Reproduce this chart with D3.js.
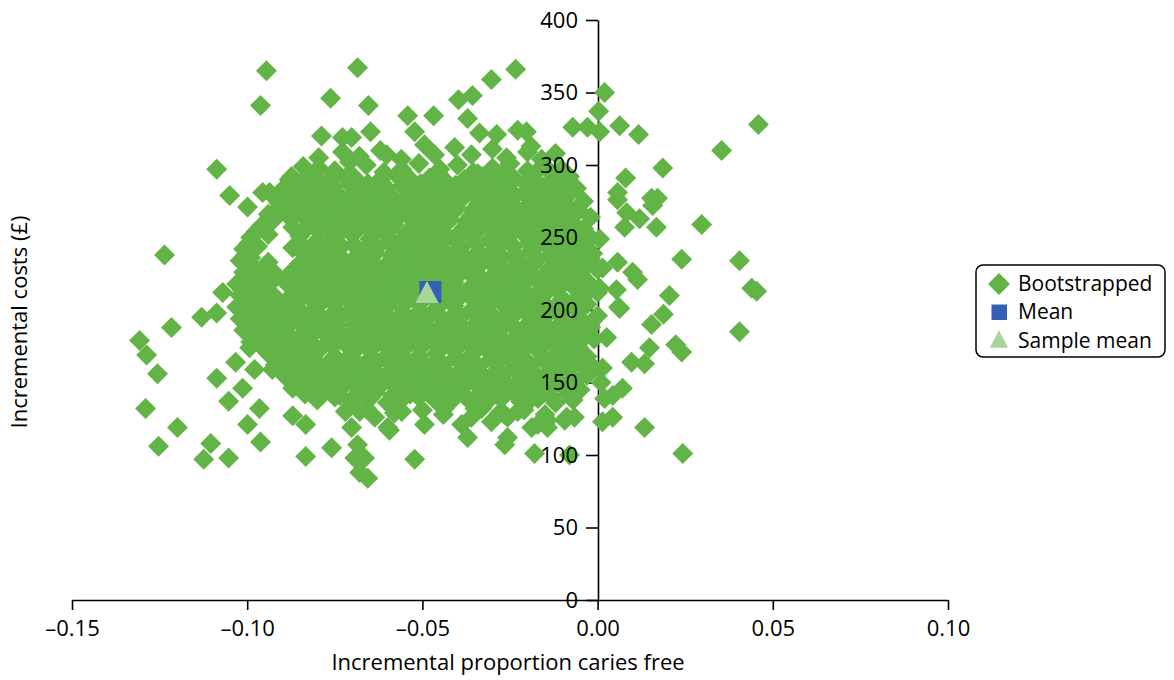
<!DOCTYPE html>
<html>
<head>
<meta charset="utf-8">
<script src="https://cdn.jsdelivr.net/npm/d3@7"></script>
<style>
body{margin:0;background:#fff}
text{font-family:"Open Sans",sans-serif;fill:#000}
</style>
</head>
<body>
<svg id="svg" width="1174" height="680"></svg>
<script>
// incremental proportion caries free, incremental cost (GBP)
var outliers = [
[-0.0945,365],[-0.0685,367],[-0.0234,366],[-0.0303,359],[-0.0962,341],[-0.0762,346],[-0.0654,341],[-0.0542,334],[-0.0468,334],[-0.0397,345],[-0.0357,348],[-0.0371,332],
[0.0020,350],[0.0003,337],[-0.0071,326],[-0.0029,326],[0.0006,323],[0.0063,327],[0.0117,321],[0.0459,328],[0.0354,310],[0.0186,298],[0.0080,291],[0.0057,281],[0.0154,277],[0.0171,277],[-0.0103,297],
[-0.0788,320],[-0.0728,319],[-0.0702,319],[-0.0648,323],[-0.0796,305],[-0.0796,298],[-0.0796,288],[-0.1087,297],[-0.0873,292],[-0.1050,279],[-0.0956,281],[-0.0936,281],[-0.0865,281],[-0.0822,283],[-0.0728,309],[-0.0708,302],[-0.0602,307],[-0.0522,323],[-0.0559,297],[-0.0494,314],[-0.0465,307],[-0.0408,312],[-0.0337,322],[-0.0288,321],[-0.0228,324],[-0.0203,323],[-0.0342,294],[-0.0999,271],[-0.0928,266],[-0.1236,238],[-0.1070,212],[-0.1130,195],[-0.1087,198],[-0.1216,188],[-0.1307,179],
[0.0297,259],[0.0240,235],[0.0405,234],[0.0454,213],[0.0440,215],[0.0205,210],[0.0060,202],[0.0188,197],[0.0154,190],[0.0405,185],[0.0077,257],[0.0120,263],[0.0168,257],[0.0083,267],[0.0157,272],[0.0057,276],[0.0006,249],[-0.0014,239],[0.0014,229],[0.0057,233],[0.0100,226],[0.0114,221],[0.0006,215],[0.0054,214],[0.0026,181],[0.0063,201],[0.0097,164],[0.0134,163],[0.0071,146],[0.0043,141],[0.0020,139],[0.0014,123],[0.0043,126],[0.0134,119],[0.0243,101],[0.0240,171],[0.0148,174],[0.0223,176],[0.0014,160],[0.0010,150],
[-0.1287,169],[-0.1256,156],[-0.1290,132],[-0.1199,119],[-0.1253,106],[-0.1087,153],[-0.1013,146],[-0.1053,137],[-0.1033,164],[-0.0965,132],[-0.0999,121],[-0.0962,109],[-0.1104,108],[-0.1124,97],[-0.1053,98],[-0.0870,127],[-0.0833,121],[-0.0833,99],[-0.0759,105],[-0.0993,174],[-0.0936,171],[-0.0979,159],[-0.0928,159],
[-0.0594,117],[-0.0522,97],[-0.0494,121],[-0.0388,121],[-0.0371,112],[-0.0265,107],[-0.0180,101],[-0.0679,88],[-0.0656,84],[-0.0693,98],[-0.0257,126],[-0.0342,132],[-0.0188,119],[-0.0702,119],[-0.0080,100],[-0.0143,124],[-0.0094,124],
[-0.0679,130],[-0.0636,126],[-0.0599,119],[-0.0559,130],[-0.0437,132],[-0.0360,126],[-0.0331,132],[-0.0303,123],[-0.0265,128],[-0.0257,112],[-0.0228,130],[-0.0188,139],[-0.0171,121],[-0.0143,119],[-0.0685,107],[-0.0665,98],[-0.0088,126],[-0.0066,126]
];

var cloud = [
[-0.068,306],[-0.062,310],[-0.056,304],[-0.036,307],[-0.030,311],[-0.026,305],[-0.020,309],[-0.016,304],[-0.012,308],[-0.019,313],
[-0.084,299],[-0.075,296],[-0.066,300],[-0.061,295],[-0.051,301],[-0.045,297],[-0.040,300],[-0.030,298],[-0.025,301],[-0.020,296],[-0.015,299],
[-0.088,290],[-0.083,292],[-0.077,289],[-0.072,291],[-0.068,288],[-0.062,290],[-0.057,292],[-0.053,289],[-0.048,291],[-0.043,288],[-0.038,290],[-0.033,292],[-0.028,289],[-0.024,291],[-0.018,288],[-0.013,290],[-0.008,292],
[-0.090,283],[-0.085,281],[-0.080,284],[-0.075,282],[-0.070,280],[-0.065,283],[-0.060,281],[-0.055,284],[-0.050,282],[-0.046,280],[-0.041,283],[-0.036,281],[-0.031,284],[-0.026,282],[-0.021,280],[-0.016,283],[-0.011,281],[-0.006,284],
[-0.091,274],[-0.087,276],[-0.082,273],[-0.077,275],[-0.073,272],[-0.068,274],[-0.063,276],[-0.058,273],[-0.053,275],[-0.048,272],[-0.043,274],[-0.039,276],[-0.034,273],[-0.029,275],[-0.024,272],[-0.019,274],[-0.014,276],[-0.009,273],[-0.004,275],
[-0.094,266],[-0.089,268],[-0.084,265],[-0.080,267],[-0.075,264],[-0.070,266],[-0.065,268],[-0.060,265],[-0.055,267],[-0.050,264],[-0.046,266],[-0.041,268],[-0.036,265],[-0.031,267],[-0.026,264],[-0.021,266],[-0.016,268],[-0.011,265],[-0.006,267],[-0.002,264],
[-0.096,258],[-0.087,257],[-0.082,259],[-0.077,256],[-0.072,258],[-0.068,260],[-0.063,257],[-0.058,259],[-0.053,256],[-0.048,258],[-0.043,260],[-0.038,257],[-0.034,259],[-0.029,256],[-0.024,258],[-0.019,260],[-0.014,257],[-0.009,259],[-0.004,256],
[-0.099,250],[-0.094,252],[-0.085,251],[-0.080,248],[-0.075,250],[-0.070,252],[-0.065,249],[-0.060,251],[-0.056,248],[-0.051,250],[-0.046,252],[-0.041,249],[-0.036,251],[-0.031,248],[-0.026,250],[-0.021,252],[-0.017,249],[-0.012,251],[-0.007,248],[-0.002,250],
[-0.101,242],[-0.097,244],[-0.087,243],[-0.082,240],[-0.078,242],[-0.073,244],[-0.068,241],[-0.063,243],[-0.058,240],[-0.053,242],[-0.048,244],[-0.044,241],[-0.039,243],[-0.034,240],[-0.029,242],[-0.024,244],[-0.019,241],[-0.014,243],[-0.010,240],[-0.005,242],
[-0.102,234],[-0.099,236],[-0.094,233],[-0.085,232],[-0.080,234],[-0.075,236],[-0.070,233],[-0.065,235],[-0.060,232],[-0.056,234],[-0.051,236],[-0.046,233],[-0.041,235],[-0.036,232],[-0.031,234],[-0.027,236],[-0.022,233],[-0.017,235],[-0.012,232],[-0.007,234],[-0.002,236],
[-0.101,226],[-0.096,228],[-0.092,225],[-0.087,227],[-0.082,224],[-0.077,226],[-0.072,228],[-0.068,225],[-0.063,227],[-0.058,224],[-0.053,226],[-0.048,228],[-0.043,225],[-0.039,227],[-0.034,224],[-0.029,226],[-0.024,228],[-0.019,225],[-0.014,227],[-0.010,224],[-0.005,226],[0.000,228],
[-0.103,218],[-0.099,220],[-0.094,217],[-0.089,219],[-0.084,216],[-0.080,218],[-0.075,220],[-0.070,217],[-0.065,219],[-0.060,216],[-0.055,218],[-0.051,220],[-0.046,217],[-0.041,219],[-0.036,216],[-0.031,218],[-0.027,220],[-0.022,217],[-0.017,219],[-0.012,216],[-0.007,218],[-0.003,220],
[-0.102,210],[-0.097,212],[-0.092,209],[-0.087,211],[-0.082,208],[-0.078,210],[-0.073,212],[-0.068,209],[-0.063,211],[-0.058,208],[-0.053,210],[-0.049,212],[-0.044,209],[-0.039,211],[-0.034,208],[-0.029,210],[-0.024,212],[-0.020,209],[-0.015,211],[-0.010,208],[-0.005,210],[0.000,212],
[-0.103,202],[-0.099,204],[-0.094,201],[-0.089,203],[-0.085,200],[-0.080,202],[-0.075,204],[-0.070,201],[-0.065,203],[-0.061,200],[-0.056,202],[-0.051,204],[-0.046,201],[-0.041,203],[-0.036,200],[-0.032,202],[-0.027,204],[-0.022,201],[-0.017,203],[-0.012,200],[-0.007,202],[-0.003,204],
[-0.102,194],[-0.097,196],[-0.092,193],[-0.087,195],[-0.082,192],[-0.077,194],[-0.073,196],[-0.068,193],[-0.063,195],[-0.058,192],[-0.053,194],[-0.048,196],[-0.044,193],[-0.039,195],[-0.034,192],[-0.029,194],[-0.024,196],[-0.019,193],[-0.015,195],[-0.010,192],[-0.005,194],[0.000,196],
[-0.101,186],[-0.098,188],[-0.094,185],[-0.089,187],[-0.084,184],[-0.080,186],[-0.075,188],[-0.070,185],[-0.065,187],[-0.060,184],[-0.056,186],[-0.051,188],[-0.046,185],[-0.041,187],[-0.036,184],[-0.031,186],[-0.027,188],[-0.022,185],[-0.017,187],[-0.012,184],[-0.007,186],[-0.002,188],
[-0.099,178],[-0.096,180],[-0.092,177],[-0.087,179],[-0.082,176],[-0.077,178],[-0.072,180],[-0.068,177],[-0.063,179],[-0.058,176],[-0.053,178],[-0.048,180],[-0.043,177],[-0.039,179],[-0.034,176],[-0.029,178],[-0.024,180],[-0.019,177],[-0.014,179],[-0.010,176],[-0.005,178],[-0.001,180],
[-0.094,170],[-0.089,172],[-0.084,169],[-0.080,171],[-0.075,168],[-0.070,170],[-0.065,172],[-0.060,169],[-0.056,171],[-0.051,168],[-0.046,170],[-0.041,172],[-0.036,169],[-0.031,171],[-0.027,168],[-0.022,170],[-0.017,172],[-0.012,169],[-0.007,171],[-0.003,168],
[-0.092,162],[-0.087,164],[-0.082,161],[-0.077,163],[-0.073,160],[-0.068,162],[-0.063,164],[-0.058,161],[-0.053,163],[-0.048,160],[-0.044,162],[-0.039,164],[-0.034,161],[-0.029,163],[-0.024,160],[-0.019,162],[-0.015,164],[-0.010,161],[-0.005,163],[-0.001,160],
[-0.089,154],[-0.084,156],[-0.080,153],[-0.075,155],[-0.070,152],[-0.065,154],[-0.060,156],[-0.056,153],[-0.051,155],[-0.046,152],[-0.041,154],[-0.036,156],[-0.031,153],[-0.027,155],[-0.022,152],[-0.017,154],[-0.012,156],[-0.007,153],[-0.003,155],
[-0.087,146],[-0.082,148],[-0.077,145],[-0.073,147],[-0.068,144],[-0.063,146],[-0.058,148],[-0.053,145],[-0.048,147],[-0.044,144],[-0.039,146],[-0.034,148],[-0.029,145],[-0.024,147],[-0.019,144],[-0.015,146],[-0.010,148],[-0.005,145],
[-0.080,138],[-0.075,140],[-0.070,137],[-0.065,139],[-0.060,136],[-0.056,138],[-0.051,140],[-0.046,137],[-0.041,139],[-0.036,136],[-0.031,138],[-0.027,140],[-0.022,137],[-0.017,139],[-0.012,136],[-0.007,138],
[-0.072,130],[-0.066,132],[-0.058,129],[-0.050,131],[-0.044,128],[-0.035,132],[-0.028,129],[-0.021,131],[-0.015,128]
];

// second layer filling the solid core of the cloud
var core = [
[-0.0805,295],[-0.0705,294],[-0.0555,295],[-0.0455,294],[-0.0355,295],[-0.0275,294],[-0.0175,295],[-0.0105,294],
[-0.0855,286],[-0.0805,287],[-0.0755,285],[-0.0705,286],[-0.0655,287],[-0.0605,285],[-0.0555,286],[-0.0505,287],[-0.0455,285],[-0.0405,286],[-0.0355,287],[-0.0305,285],[-0.0255,286],[-0.0205,287],[-0.0155,285],[-0.0105,286],
[-0.0885,278],[-0.0835,279],[-0.0785,277],[-0.0735,278],[-0.0685,279],[-0.0635,277],[-0.0585,278],[-0.0535,279],[-0.0485,277],[-0.0435,278],[-0.0385,279],[-0.0335,277],[-0.0285,278],[-0.0235,279],[-0.0185,277],[-0.0135,278],[-0.0085,279],
[-0.0905,270],[-0.0855,271],[-0.0805,269],[-0.0755,270],[-0.0705,271],[-0.0655,269],[-0.0605,270],[-0.0555,271],[-0.0505,269],[-0.0455,270],[-0.0405,271],[-0.0355,269],[-0.0305,270],[-0.0255,271],[-0.0205,269],[-0.0155,270],[-0.0105,271],[-0.0055,269],
[-0.0925,262],[-0.0875,263],[-0.0825,261],[-0.0775,262],[-0.0725,263],[-0.0675,261],[-0.0625,262],[-0.0575,263],[-0.0525,261],[-0.0475,262],[-0.0425,263],[-0.0375,261],[-0.0325,262],[-0.0275,263],[-0.0225,261],[-0.0175,262],[-0.0125,263],[-0.0075,261],
[-0.0975,254],[-0.0845,253],[-0.0795,254],[-0.0745,255],[-0.0695,253],[-0.0645,254],[-0.0595,255],[-0.0545,253],[-0.0495,254],[-0.0445,255],[-0.0395,253],[-0.0345,254],[-0.0295,255],[-0.0245,253],[-0.0195,254],[-0.0145,255],[-0.0095,253],[-0.0045,254],
[-0.0995,246],[-0.0845,245],[-0.0795,246],[-0.0745,247],[-0.0695,245],[-0.0645,246],[-0.0595,247],[-0.0545,245],[-0.0495,246],[-0.0445,247],[-0.0395,245],[-0.0345,246],[-0.0295,247],[-0.0245,245],[-0.0195,246],[-0.0145,247],[-0.0095,245],[-0.0045,246],
[-0.1005,238],[-0.0835,238],[-0.0785,239],[-0.0735,237],[-0.0685,238],[-0.0635,239],[-0.0585,237],[-0.0535,238],[-0.0485,239],[-0.0435,237],[-0.0385,238],[-0.0335,239],[-0.0285,237],[-0.0235,238],[-0.0185,239],[-0.0135,237],[-0.0085,238],[-0.0035,239],
[-0.0985,230],[-0.0835,230],[-0.0785,231],[-0.0735,229],[-0.0685,230],[-0.0635,231],[-0.0585,229],[-0.0535,230],[-0.0485,231],[-0.0435,229],[-0.0385,230],[-0.0335,231],[-0.0285,229],[-0.0235,230],[-0.0185,231],[-0.0135,229],[-0.0085,230],[-0.0035,231],
[-0.1005,222],[-0.0955,223],[-0.0855,222],[-0.0805,223],[-0.0755,221],[-0.0705,222],[-0.0655,223],[-0.0605,221],[-0.0555,222],[-0.0505,223],[-0.0455,221],[-0.0405,222],[-0.0355,223],[-0.0305,221],[-0.0255,222],[-0.0205,223],[-0.0155,221],[-0.0105,222],[-0.0055,223],
[-0.1015,214],[-0.0965,215],[-0.0865,214],[-0.0815,215],[-0.0765,213],[-0.0715,214],[-0.0665,215],[-0.0615,213],[-0.0565,214],[-0.0515,215],[-0.0465,213],[-0.0415,214],[-0.0365,215],[-0.0315,213],[-0.0265,214],[-0.0215,215],[-0.0165,213],[-0.0115,214],[-0.0065,215],[-0.0025,213],
[-0.1005,206],[-0.0955,207],[-0.0855,206],[-0.0805,207],[-0.0755,205],[-0.0705,206],[-0.0655,207],[-0.0605,205],[-0.0555,206],[-0.0505,207],[-0.0455,205],[-0.0405,206],[-0.0355,207],[-0.0305,205],[-0.0255,206],[-0.0205,207],[-0.0155,205],[-0.0105,206],[-0.0055,207],
[-0.1005,198],[-0.0955,199],[-0.0905,197],[-0.0855,198],[-0.0805,199],[-0.0755,197],[-0.0705,198],[-0.0655,199],[-0.0605,197],[-0.0555,198],[-0.0505,199],[-0.0455,197],[-0.0405,198],[-0.0355,199],[-0.0305,197],[-0.0255,198],[-0.0205,199],[-0.0155,197],[-0.0105,198],[-0.0055,199],
[-0.0995,190],[-0.0945,191],[-0.0895,189],[-0.0845,190],[-0.0795,191],[-0.0745,189],[-0.0695,190],[-0.0645,191],[-0.0595,189],[-0.0545,190],[-0.0495,191],[-0.0445,189],[-0.0395,190],[-0.0345,191],[-0.0295,189],[-0.0245,190],[-0.0195,191],[-0.0145,189],[-0.0095,190],[-0.0045,191],
[-0.0975,182],[-0.0925,183],[-0.0875,181],[-0.0825,182],[-0.0775,183],[-0.0725,181],[-0.0675,182],[-0.0625,183],[-0.0575,181],[-0.0525,182],[-0.0475,183],[-0.0425,181],[-0.0375,182],[-0.0325,183],[-0.0275,181],[-0.0225,182],[-0.0175,183],[-0.0125,181],[-0.0075,182],[-0.0035,183],
[-0.0955,174],[-0.0905,175],[-0.0855,173],[-0.0805,174],[-0.0755,175],[-0.0705,173],[-0.0655,174],[-0.0605,175],[-0.0555,173],[-0.0505,174],[-0.0455,175],[-0.0405,173],[-0.0355,174],[-0.0305,175],[-0.0255,173],[-0.0205,174],[-0.0155,175],[-0.0105,173],[-0.0055,174],
[-0.0905,166],[-0.0855,167],[-0.0805,165],[-0.0755,166],[-0.0705,167],[-0.0655,165],[-0.0605,166],[-0.0555,167],[-0.0505,165],[-0.0455,166],[-0.0405,167],[-0.0355,165],[-0.0305,166],[-0.0255,167],[-0.0205,165],[-0.0155,166],[-0.0105,167],[-0.0055,165],
[-0.0885,158],[-0.0835,159],[-0.0785,157],[-0.0735,158],[-0.0685,159],[-0.0635,157],[-0.0585,158],[-0.0535,159],[-0.0485,157],[-0.0435,158],[-0.0385,159],[-0.0335,157],[-0.0285,158],[-0.0235,159],[-0.0185,157],[-0.0135,158],[-0.0085,159],
[-0.0865,150],[-0.0815,151],[-0.0765,149],[-0.0715,150],[-0.0665,151],[-0.0615,149],[-0.0565,150],[-0.0515,151],[-0.0465,149],[-0.0415,150],[-0.0365,151],[-0.0315,149],[-0.0265,150],[-0.0215,151],[-0.0165,149],[-0.0115,150],[-0.0065,151],
[-0.0835,142],[-0.0785,143],[-0.0735,141],[-0.0685,142],[-0.0635,143],[-0.0585,141],[-0.0535,142],[-0.0485,143],[-0.0435,141],[-0.0385,142],[-0.0335,143],[-0.0285,141],[-0.0235,142],[-0.0185,143],[-0.0135,141],[-0.0085,142]
];

var bootstrapped = outliers.concat(cloud, core);
var meanPoint = [-0.0477, 212.4];
var sampleMean = [-0.0487, 212.4];

var xTicks = [-0.15, -0.10, -0.05, 0, 0.05, 0.10];
var yTicks = [0, 50, 100, 150, 200, 250, 300, 350, 400];
var legendLabels = ["Bootstrapped", "Mean", "Sample mean"];

var green = "#63b446", blue = "#3461b3", pale = "#a9d59b";

var svg = d3.select("#svg");
var x = d3.scaleLinear().domain([-0.15, 0.10]).range([72, 948]);
var y = d3.scaleLinear().domain([0, 400]).range([600, 20]);

var fmtX = function(d){ return (d < 0 ? "\u2013" : "") + d3.format(".2f")(Math.abs(d)); };

// axis lines and ticks (labels drawn later, over the points)
svg.append("g").attr("transform", "translate(0,600)")
  .call(d3.axisBottom(x).tickValues(xTicks).tickSize(10).tickSizeOuter(0).tickFormat(""));
svg.append("g").attr("transform", "translate(598,0)")
  .call(d3.axisLeft(y).tickValues(yTicks).tickSize(12).tickSizeOuter(0).tickFormat(""));
svg.selectAll(".domain, .tick line").attr("stroke", "#000").attr("stroke-width", 1.6);

var diamond = {draw: function(ctx, size){
  var r = Math.sqrt(size / 2);
  ctx.moveTo(0, -r); ctx.lineTo(r, 0); ctx.lineTo(0, r); ctx.lineTo(-r, 0); ctx.closePath();
}};
var tri = {draw: function(ctx, size){
  var h = Math.sqrt(size);
  ctx.moveTo(0, -h / 2); ctx.lineTo(h * 0.53, h / 2); ctx.lineTo(-h * 0.53, h / 2); ctx.closePath();
}};

svg.append("g").selectAll("path").data(bootstrapped).enter().append("path")
  .attr("d", d3.symbol().type(diamond).size(220))
  .attr("transform", function(d){ return "translate(" + x(d[0]) + "," + y(d[1]) + ")"; })
  .attr("fill", green);

svg.append("rect")
  .attr("x", x(meanPoint[0]) - 11).attr("y", y(meanPoint[1]) - 11)
  .attr("width", 22).attr("height", 22).attr("fill", blue);
svg.append("path")
  .attr("d", d3.symbol().type(tri).size(484))
  .attr("transform", "translate(" + x(sampleMean[0]) + "," + y(sampleMean[1]) + ")")
  .attr("fill", pale);

// tick labels on top
svg.append("g").attr("transform", "translate(0,600)")
  .call(d3.axisBottom(x).tickValues(xTicks).tickSize(0).tickPadding(20).tickFormat(fmtX))
  .call(function(g){ g.select(".domain").remove(); });
svg.append("g").attr("transform", "translate(598,0)")
  .call(d3.axisLeft(y).tickValues(yTicks).tickSize(0).tickPadding(20))
  .call(function(g){ g.select(".domain").remove(); });
svg.selectAll(".tick text").attr("font-size", 22).attr("font-family", "Open Sans").attr("fill", "#000");

svg.append("text").attr("x", 508).attr("y", 670).attr("text-anchor", "middle")
  .attr("font-size", 22).text("Incremental proportion caries free");
svg.append("text").attr("transform", "translate(27,322) rotate(-90)").attr("text-anchor", "middle")
  .attr("font-size", 22).text("Incremental costs (\u00a3)");

// legend
var lg = svg.append("g").attr("transform", "translate(976,265)");
lg.append("rect").attr("width", 189).attr("height", 92).attr("rx", 7)
  .attr("fill", "#fff").attr("stroke", "#000").attr("stroke-width", 1.5);
lg.append("path").attr("d", d3.symbol().type(diamond).size(240)).attr("transform", "translate(23,19)").attr("fill", green);
lg.append("rect").attr("x", 15.5).attr("y", 39.5).attr("width", 15.5).attr("height", 15.5).attr("fill", blue);
lg.append("path").attr("d", d3.symbol().type(tri).size(300)).attr("transform", "translate(23,74)").attr("fill", pale);
lg.selectAll("text.lab").data(legendLabels).enter().append("text").attr("class", "lab")
  .attr("x", 42).attr("y", function(d, i){ return 25.5 + i * 28.7; })
  .attr("font-size", 21).text(function(d){ return d; });
</script>
</body>
</html>
